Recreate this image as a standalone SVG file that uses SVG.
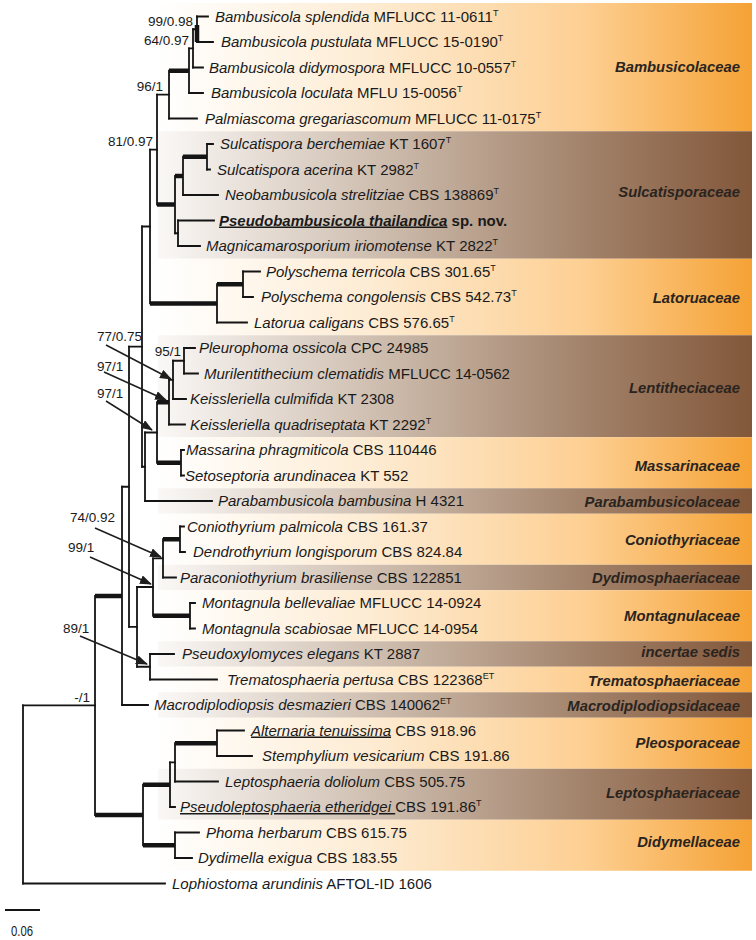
<svg xmlns="http://www.w3.org/2000/svg" width="756" height="940" viewBox="0 0 756 940">
<defs>
<linearGradient id="gl" x1="0" y1="0" x2="1" y2="0">
<stop offset="0" stop-color="#ffffff"/>
<stop offset="0.35" stop-color="#fdecd4"/>
<stop offset="0.72" stop-color="#fdcf92"/>
<stop offset="1" stop-color="#f5a235"/>
</linearGradient>
<linearGradient id="gd" x1="0" y1="0" x2="1" y2="0">
<stop offset="0" stop-color="#faf8f6"/>
<stop offset="0.38" stop-color="#cdbcad"/>
<stop offset="0.72" stop-color="#a2826a"/>
<stop offset="1" stop-color="#82573a"/>
</linearGradient>
<marker id="ah" markerWidth="12" markerHeight="9" refX="11" refY="4.5" orient="auto" markerUnits="userSpaceOnUse">
<path d="M0,0 L12,4.5 L0,9 Z" fill="#1e1e1e"/>
</marker>
<style>
text{font-family:"Liberation Sans",Arial,sans-serif;fill:#1a1a1a}
.tx{font-size:15px}
.i{font-style:italic}
.u{text-decoration:underline}
.bd{font-weight:bold}
.sup{font-size:9px}
.fam{font-size:14.8px;font-weight:bold;font-style:italic;text-anchor:end;fill:#2a2420}
.sl{font-size:13.5px}
.e{text-anchor:end}
.br{stroke:#141414;stroke-width:1.8;fill:none;stroke-linecap:square}
.tk{stroke:#141414;stroke-width:4.5;fill:none;stroke-linecap:butt}
.ar{stroke:#1e1e1e;stroke-width:1.5;fill:none;marker-end:url(#ah)}
</style>
</defs>
<rect x="0" y="0" width="756" height="940" fill="#ffffff"/>
<g id="bands">
<rect x="158" y="3" width="594" height="128.25" fill="url(#gl)"/>
<rect x="158" y="131.25" width="594" height="127.5" fill="url(#gd)"/>
<rect x="158" y="258.75" width="594" height="76.5" fill="url(#gl)"/>
<rect x="158" y="335.25" width="594" height="102" fill="url(#gd)"/>
<rect x="158" y="437.25" width="594" height="51" fill="url(#gl)"/>
<rect x="158" y="488.25" width="594" height="25.5" fill="url(#gd)"/>
<rect x="158" y="513.75" width="594" height="51" fill="url(#gl)"/>
<rect x="158" y="564.75" width="594" height="25.5" fill="url(#gd)"/>
<rect x="158" y="590.25" width="594" height="51" fill="url(#gl)"/>
<rect x="158" y="641.25" width="594" height="25.5" fill="url(#gd)"/>
<rect x="158" y="666.75" width="594" height="25.5" fill="url(#gl)"/>
<rect x="158" y="692.25" width="594" height="25.5" fill="url(#gd)"/>
<rect x="158" y="717.75" width="594" height="51" fill="url(#gl)"/>
<rect x="158" y="768.75" width="594" height="51" fill="url(#gd)"/>
<rect x="158" y="819.75" width="594" height="51" fill="url(#gl)"/>
</g>
<g id="families">
<text class="fam" x="740" y="72">Bambusicolaceae</text>
<text class="fam" x="740" y="197">Sulcatisporaceae</text>
<text class="fam" x="740" y="303">Latoruaceae</text>
<text class="fam" x="740" y="393">Lentitheciaceae</text>
<text class="fam" x="740" y="471">Massarinaceae</text>
<text class="fam" x="740" y="507">Parabambusicolaceae</text>
<text class="fam" x="740" y="545">Coniothyriaceae</text>
<text class="fam" x="740" y="583">Dydimosphaeriaceae</text>
<text class="fam" x="740" y="621">Montagnulaceae</text>
<text class="fam" x="740" y="657">incertae sedis</text>
<text class="fam" x="740" y="686">Trematosphaeriaceae</text>
<text class="fam" x="740" y="711">Macrodiplodiopsidaceae</text>
<text class="fam" x="740" y="748">Pleosporaceae</text>
<text class="fam" x="740" y="798">Leptosphaeriaceae</text>
<text class="fam" x="740" y="847">Didymellaceae</text>
</g>
<g id="connectors">
<path class="br" d="M197 16.5H208 M197 42H213 M193 67.5H203 M189 93H203 M169 118.5H197 M207 144H213 M207 169.5H210 M183 195H218 M178 220.5H214 M178 246H200 M243 271.5H260 M243 297H253 M217 322.5H247 M184 348H195 M184 373.5H198 M173 399H186 M169 424.5H185 M181 450H184 M181 475.5H184 M145 501H212 M180 526.5H184 M180 552H185 M163 577.5H176 M190 603H195 M190 628.5H195 M150 654H174 M150 679.5H217 M122 705H148 M217 730.5H244 M217 756H252 M175 781.5H218 M170 807H175 M175 832.5H199 M175 858H192 M23 883.5H165"/>
<path class="br" d="M197 16.5V42 M193 29.25V67.5 M189 48.4V93 M169 70.7V118.5 M207 144V169.5 M183 156.75V195 M178 220.5V246 M175 175.9V233.25 M157 94.6V204.6 M243 271.5V297 M217 284.25V322.5 M150 149.6V303.4 M184 348V373.5 M173 360.75V399 M169 379.9V424.5 M181 450V475.5 M157 402.2V462.75 M145 432.5V501 M142 226.5V466.75 M180 526.5V552 M163 539.25V577.5 M190 603V628.5 M153 558.4V615.75 M150 654V679.5 M137 587V666.75 M129 346.6V626.9 M122 486.75V705 M217 730.5V756 M175 743.25V781.5 M170 762.4V807 M175 832.5V858 M143 784.7V845.25 M95 595.9V815 M23 705.45V883.5"/>
<path class="br" d="M193 29.25H197 M189 48.4H193 M157 94.6H169 M175 233.25H178 M150 149.6H157 M142 226.5H150 M173 360.75H184 M169 379.9H173 M145 432.5H157 M142 466.75H145 M129 346.6H142 M153 558.4H163 M137 587H153 M137 666.75H150 M129 626.9H137 M122 486.75H129 M170 762.4H175 M23 705.45H95"/>
<path class="tk" d="M197 25V42 M169 70.7H189 M183 156.75H207 M175 175.9H183 M157 204.6H175 M217 284.25H243 M150 303.4H217 M157 402.2H169 M157 462.75H181 M163 539.25H180 M153 615.75H190 M95 595.9H122 M175 743.25H217 M143 784.7H170 M143 845.25H175 M95 815H143"/>
<path class="ar" d="M106 345L171 379"/>
<path class="ar" d="M104 372L166 400"/>
<path class="ar" d="M106 401L152 430"/>
<path class="ar" d="M95 528L161 557"/>
<path class="ar" d="M90 557L151 584"/>
<path class="ar" d="M80 636L147 664"/>
</g>
<g id="support">
<text class="sl e" x="193" y="26">99/0.98</text>
<text class="sl e" x="189" y="45">64/0.97</text>
<text class="sl e" x="163" y="91">96/1</text>
<text class="sl e" x="153" y="146">81/0.97</text>
<text class="sl e" x="181" y="356">95/1</text>
<text class="sl e" x="90" y="702">-/1</text>
<text class="sl" x="97" y="341">77/0.75</text>
<text class="sl" x="97" y="371">97/1</text>
<text class="sl" x="97" y="398">97/1</text>
<text class="sl" x="70" y="522">74/0.92</text>
<text class="sl" x="68" y="552">99/1</text>
<text class="sl" x="63" y="633">89/1</text>
</g>
<g id="n0"><text class="tx" x="215" y="21.5"><tspan class="i">Bambusicola splendida</tspan> MFLUCC 11-0611<tspan class="sup" dy="-6">T</tspan></text></g>
<g id="n1"><text class="tx" x="221" y="47"><tspan class="i">Bambusicola pustulata</tspan> MFLUCC 15-0190<tspan class="sup" dy="-6">T</tspan></text></g>
<g id="n2"><text class="tx" x="209" y="72.5"><tspan class="i">Bambusicola didymospora</tspan> MFLUCC 10-0557<tspan class="sup" dy="-6">T</tspan></text></g>
<g id="n3"><text class="tx" x="211" y="98"><tspan class="i">Bambusicola loculata</tspan> MFLU 15-0056<tspan class="sup" dy="-6">T</tspan></text></g>
<g id="n4"><text class="tx" x="205" y="123.5"><tspan class="i">Palmiascoma gregariascomum</tspan> MFLUCC 11-0175<tspan class="sup" dy="-6">T</tspan></text></g>
<g id="n5"><text class="tx" x="220" y="149"><tspan class="i">Sulcatispora berchemiae</tspan> KT 1607<tspan class="sup" dy="-6">T</tspan></text></g>
<g id="n6"><text class="tx" x="217" y="174.5"><tspan class="i">Sulcatispora acerina</tspan> KT 2982<tspan class="sup" dy="-6">T</tspan></text></g>
<g id="n7"><text class="tx" x="225" y="200"><tspan class="i">Neobambusicola strelitziae</tspan> CBS 138869<tspan class="sup" dy="-6">T</tspan></text></g>
<g id="n8"><text class="tx bd" x="219" y="225.5"><tspan class="i u">Pseudobambusicola thailandica</tspan> sp. nov.</text></g>
<g id="n9"><text class="tx" x="206" y="251"><tspan class="i">Magnicamarosporium iriomotense</tspan> KT 2822<tspan class="sup" dy="-6">T</tspan></text></g>
<g id="n10"><text class="tx" x="266" y="276.5"><tspan class="i">Polyschema terricola</tspan> CBS 301.65<tspan class="sup" dy="-6">T</tspan></text></g>
<g id="n11"><text class="tx" x="261" y="302"><tspan class="i">Polyschema congolensis</tspan> CBS 542.73<tspan class="sup" dy="-6">T</tspan></text></g>
<g id="n12"><text class="tx" x="254" y="327.5"><tspan class="i">Latorua caligans</tspan> CBS 576.65<tspan class="sup" dy="-6">T</tspan></text></g>
<g id="n13"><text class="tx" x="199" y="353"><tspan class="i">Pleurophoma ossicola</tspan> CPC 24985</text></g>
<g id="n14"><text class="tx" x="204" y="378.5"><tspan class="i">Murilentithecium clematidis</tspan> MFLUCC 14-0562</text></g>
<g id="n15"><text class="tx" x="190" y="404"><tspan class="i">Keissleriella culmifida</tspan> KT 2308</text></g>
<g id="n16"><text class="tx" x="190" y="429.5"><tspan class="i">Keissleriella quadriseptata</tspan> KT 2292<tspan class="sup" dy="-6">T</tspan></text></g>
<g id="n17"><text class="tx" x="186" y="455"><tspan class="i">Massarina phragmiticola</tspan> CBS 110446</text></g>
<g id="n18"><text class="tx" x="185" y="480.5"><tspan class="i">Setoseptoria arundinacea</tspan> KT 552</text></g>
<g id="n19"><text class="tx" x="218" y="506"><tspan class="i">Parabambusicola bambusina</tspan> H 4321</text></g>
<g id="n20"><text class="tx" x="187" y="531.5"><tspan class="i">Coniothyrium palmicola</tspan> CBS 161.37</text></g>
<g id="n21"><text class="tx" x="193" y="557"><tspan class="i">Dendrothyrium longisporum</tspan> CBS 824.84</text></g>
<g id="n22"><text class="tx" x="180" y="582.5"><tspan class="i">Paraconiothyrium brasiliense</tspan> CBS 122851</text></g>
<g id="n23"><text class="tx" x="202" y="608"><tspan class="i">Montagnula bellevaliae</tspan> MFLUCC 14-0924</text></g>
<g id="n24"><text class="tx" x="202" y="633.5"><tspan class="i">Montagnula scabiosae</tspan> MFLUCC 14-0954</text></g>
<g id="n25"><text class="tx" x="182" y="659"><tspan class="i">Pseudoxylomyces elegans</tspan> KT 2887</text></g>
<g id="n26"><text class="tx" x="227" y="684.5"><tspan class="i">Trematosphaeria pertusa</tspan> CBS 122368<tspan class="sup" dy="-6">ET</tspan></text></g>
<g id="n27"><text class="tx" x="154" y="710"><tspan class="i">Macrodiplodiopsis desmazieri</tspan> CBS 140062<tspan class="sup" dy="-6">ET</tspan></text></g>
<g id="n28"><text class="tx" x="251" y="735.5"><tspan class="i u">Alternaria tenuissima</tspan> CBS 918.96</text></g>
<g id="n29"><text class="tx" x="262" y="761"><tspan class="i">Stemphylium vesicarium</tspan> CBS 191.86</text></g>
<g id="n30"><text class="tx" x="225" y="786.5"><tspan class="i">Leptosphaeria doliolum</tspan> CBS 505.75</text></g>
<g id="n31"><text class="tx" x="180" y="812"><tspan class="i u">Pseudoleptosphaeria etheridgei </tspan>CBS 191.86<tspan class="sup" dy="-6">T</tspan></text></g>
<g id="n32"><text class="tx" x="206" y="837.5"><tspan class="i">Phoma herbarum</tspan> CBS 615.75</text></g>
<g id="n33"><text class="tx" x="198" y="863"><tspan class="i">Dydimella exigua</tspan> CBS 183.55</text></g>
<g id="n34"><text class="tx" x="172" y="888.5"><tspan class="i">Lophiostoma arundinis</tspan> AFTOL-ID 1606</text></g>
<g id="scale">
<path d="M5 910H40" stroke="#141414" stroke-width="2" fill="none"/>
<text x="11" y="936" font-size="14" textLength="22" lengthAdjust="spacingAndGlyphs">0.06</text>
</g>
</svg>
